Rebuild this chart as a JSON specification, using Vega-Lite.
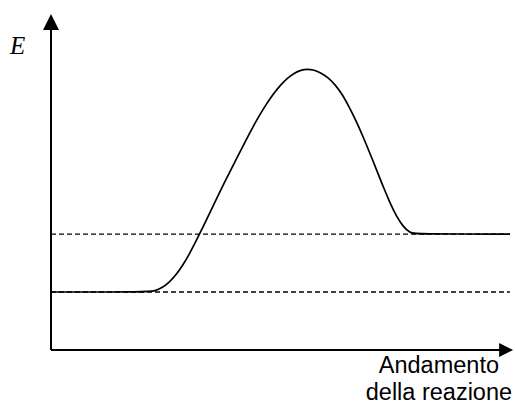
{
  "$schema": "https://vega.github.io/schema/vega-lite/v6.json",
  "width": 464,
  "height": 336,
  "autosize": "none",
  "padding": {"left": 51, "top": 14, "right": 0, "bottom": 55},
  "background": "white",
  "config": {"view": {"stroke": null}},
  "datasets": {
    "curve": [
      {"x": 0, "E": 20},
      {"x": 20.9, "E": 20},
      {"x": 22.4, "E": 20.4},
      {"x": 23.9, "E": 21.4},
      {"x": 25.4, "E": 23.2},
      {"x": 26.9, "E": 25.8},
      {"x": 28.4, "E": 29.2},
      {"x": 29.9, "E": 33.3},
      {"x": 31.4, "E": 38.0},
      {"x": 32.9, "E": 42.9},
      {"x": 34.4, "E": 47.9},
      {"x": 35.9, "E": 52.9},
      {"x": 37.4, "E": 57.8},
      {"x": 38.9, "E": 62.6},
      {"x": 40.4, "E": 67.3},
      {"x": 41.9, "E": 72.0},
      {"x": 43.4, "E": 76.6},
      {"x": 44.9, "E": 80.9},
      {"x": 46.4, "E": 84.8},
      {"x": 47.9, "E": 88.3},
      {"x": 49.4, "E": 91.3},
      {"x": 50.9, "E": 93.7},
      {"x": 52.4, "E": 95.5},
      {"x": 53.9, "E": 96.6},
      {"x": 55.2, "E": 96.9},
      {"x": 56.7, "E": 96.6},
      {"x": 58.2, "E": 95.6},
      {"x": 59.7, "E": 94.0},
      {"x": 61.2, "E": 91.6},
      {"x": 62.7, "E": 88.4},
      {"x": 64.2, "E": 84.0},
      {"x": 65.7, "E": 79.2},
      {"x": 67.2, "E": 73.8},
      {"x": 68.7, "E": 68.0},
      {"x": 70.2, "E": 62.0},
      {"x": 71.6, "E": 56.3},
      {"x": 73.1, "E": 50.6},
      {"x": 74.5, "E": 46.0},
      {"x": 75.9, "E": 42.5},
      {"x": 77.4, "E": 40.4},
      {"x": 78.4, "E": 40},
      {"x": 98.9, "E": 40}
    ],
    "levels": [
      {"E": 20, "from": 0, "to": 98.9},
      {"E": 40, "from": 0, "to": 98.9}
    ],
    "axes": [
      {"name": "x", "x": 0, "x2": 99.2, "E": 0, "E2": 0},
      {"name": "y", "x": 0, "x2": 0, "E": 0, "E2": 113}
    ],
    "tips": [
      {"name": "x", "x": 99.6, "E": 0},
      {"name": "y", "x": 0, "E": 115.9}
    ],
    "labels": [
      {"text": "Andamento", "x": 83.6, "E": -7.9},
      {"text": "della reazione", "x": 83.6, "E": -17.2}
    ]
  },
  "layer": [
    {
      "data": {"name": "levels"},
      "mark": {"type": "rule", "color": "black", "strokeWidth": 1.3, "strokeDash": [5, 3]},
      "encoding": {
        "x": {"field": "from", "type": "quantitative", "scale": {"domain": [0, 100], "nice": false}, "axis": null},
        "x2": {"field": "to"},
        "y": {"field": "E", "type": "quantitative", "scale": {"domain": [0, 115.9], "nice": false}, "axis": null}
      }
    },
    {
      "data": {"name": "curve"},
      "mark": {"type": "line", "color": "black", "strokeWidth": 1.7, "interpolate": "basis"},
      "encoding": {
        "x": {"field": "x", "type": "quantitative"},
        "y": {"field": "E", "type": "quantitative"}
      }
    },
    {
      "data": {"name": "axes"},
      "mark": {"type": "rule", "color": "black", "strokeWidth": 2},
      "encoding": {
        "x": {"field": "x", "type": "quantitative"},
        "x2": {"field": "x2"},
        "y": {"field": "E", "type": "quantitative"},
        "y2": {"field": "E2"}
      }
    },
    {
      "data": {"name": "tips"},
      "transform": [{"filter": "datum.name === 'y'"}],
      "mark": {"type": "point", "filled": true, "color": "black", "opacity": 1, "shape": "M0,0L-0.5,1L0.5,1Z", "size": 1024, "strokeWidth": 0},
      "encoding": {
        "x": {"field": "x", "type": "quantitative"},
        "y": {"field": "E", "type": "quantitative"}
      }
    },
    {
      "data": {"name": "tips"},
      "transform": [{"filter": "datum.name === 'x'"}],
      "mark": {"type": "point", "filled": true, "color": "black", "opacity": 1, "shape": "M0,0L-1,-0.5L-1,0.5Z", "size": 784, "strokeWidth": 0},
      "encoding": {
        "x": {"field": "x", "type": "quantitative"},
        "y": {"field": "E", "type": "quantitative"}
      }
    },
    {
      "data": {"name": "labels"},
      "mark": {"type": "text", "font": "Liberation Sans", "fontSize": 23.5, "align": "center", "baseline": "alphabetic", "color": "black"},
      "encoding": {
        "x": {"field": "x", "type": "quantitative"},
        "y": {"field": "E", "type": "quantitative"},
        "text": {"field": "text"}
      }
    },
    {
      "data": {"values": [{"text": "E", "x": -7.2, "E": 102}]},
      "mark": {"type": "text", "font": "Liberation Serif", "fontStyle": "italic", "fontSize": 25, "align": "center", "baseline": "alphabetic", "color": "black"},
      "encoding": {
        "x": {"field": "x", "type": "quantitative"},
        "y": {"field": "E", "type": "quantitative"},
        "text": {"field": "text"}
      }
    }
  ]
}
